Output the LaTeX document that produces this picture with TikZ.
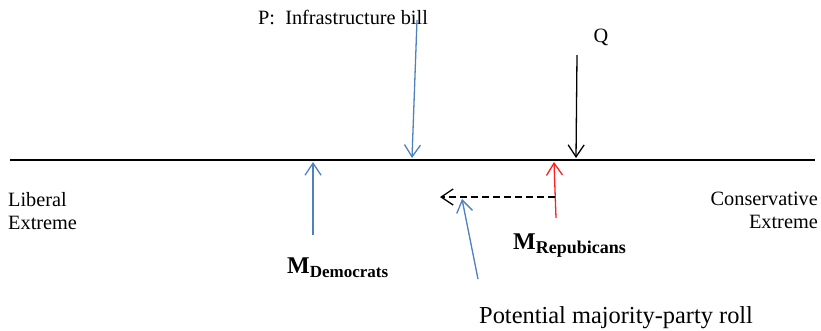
\documentclass[tikz,border=0pt]{standalone}
\usepackage{fontspec}
\setmainfont{Liberation Serif}
\usetikzlibrary{arrows.meta}

\definecolor{mblue}{HTML}{4F81BD}
\definecolor{mred}{HTML}{FF1F1F}

\tikzset{
  lbl/.style={inner sep=0pt, font=\fontsize{20.3}{23}\selectfont},
  pin/.style={line width=1.3pt, -{Straight Barb[length=12pt,width=16pt,line width=1.3pt]}},
}
\newcommand{\medianlbl}[2]{{\fontsize{24}{24}\selectfont\bfseries M}\raisebox{-4pt}{\fontsize{#2}{#2}\selectfont\bfseries #1}}

\begin{document}
\begin{tikzpicture}[x=1pt, y=-1pt]
  \useasboundingbox (0,0) rectangle (821,330);

  % the line
  \coordinate (lineL) at ( 10,160);
  \coordinate (lineR) at (815,160);
  \draw [line width=2.2pt] (lineL) -- (lineR);

  \node (lib) [lbl, anchor=north west, align=left]  at (8,192)   {Liberal\\Extreme};
  \node (con) [lbl, anchor=north east, align=right] at (818,192) {Conservative\\Extreme};

  % proposals
  \node (ptxt) [lbl, anchor=west] at (258,17) {P:\ \ Infrastructure bill};
  \coordinate (ptop) at (417, 20);
  \coordinate (pend) at (412,158);
  \node (qtxt) [lbl] at (601,37) {Q};
  \coordinate (qtop) at (577, 55);
  \coordinate (qend) at (576,158);

  \draw [pin, mblue] (ptop) -- (pend);
  \draw [pin, black] (qtop) -- (qend);

  % medians
  \coordinate (dbot) at (313,235);
  \coordinate (dend) at (313,162);
  \coordinate (rbot) at (556,218);
  \coordinate (rend) at (554,162);
  \node (mdem) [inner sep=0pt, anchor=base west] at (287,273) {\medianlbl{Democrats}{17}};
  \node (mrep) [inner sep=0pt, anchor=base west] at (513,249) {\medianlbl{Repubicans}{18}};

  \draw [pin, mblue] (dbot) -- (dend);
  \draw [pin, mred]  (rbot) -- (rend);

  % the roll
  \coordinate (shift) at (555,197);
  \coordinate (stip)  at (440,197);
  \draw [pin, black, dash pattern=on 7pt off 4pt] (shift) -- (stip);

  \coordinate (rollbot) at (478,279);
  \coordinate (rolltip) at (462,199);
  \draw [pin, mblue] (rollbot) -- (rolltip);
  \node (roll) [inner sep=0pt, anchor=base west, font=\fontsize{24.4}{24}\selectfont] at (479,323) {Potential majority-party roll};
\end{tikzpicture}
\end{document}
